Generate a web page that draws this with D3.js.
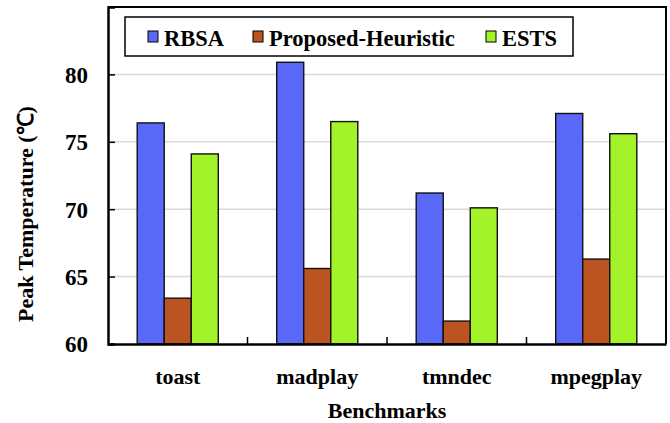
<!DOCTYPE html>
<html>
<head>
<meta charset="utf-8">
<script src="https://cdn.jsdelivr.net/npm/d3@7"></script>
<style>
  html, body { margin: 0; padding: 0; background: #fff; }
  svg { display: block; }
</style>
</head>
<body>
<svg id="chart" width="670" height="423"></svg>
<script>
// Benchmarks on the x axis
const benchmarks = ["toast", "madplay", "tmndec", "mpegplay"];
// Scheduling approaches (legend order)
const seriesNames = ["RBSA", "Proposed-Heuristic", "ESTS"];
const seriesColors = ["#5a68f8", "#bb5420", "#a3f22a"];
// Peak temperature (°C) per benchmark for each approach
const rbsa = [76.4, 80.9, 71.2, 77.1];
const proposedHeuristic = [63.4, 65.6, 61.7, 66.3];
const ests = [74.1, 76.5, 70.1, 75.6];
// Y axis ticks
const yTicks = [60, 65, 70, 75, 80];

const seriesValues = [rbsa, proposedHeuristic, ests];

const FONT = '"Liberation Serif", "Times New Roman", Times, serif';
const svg = d3.select("#chart");
const plotLeft = 108, plotRight = 666, plotTop = 7, plotBottom = 344;

const x = d3.scaleBand().domain(benchmarks).range([plotLeft, plotRight]).paddingInner(0).paddingOuter(0);
// three adjacent bars per group, centred with a gap on each side
const xs = d3.scaleBand().domain(seriesNames).range([0, x.bandwidth()]).paddingInner(0).paddingOuter(1.08);
const y = d3.scaleLinear().domain([60, 85]).range([plotBottom, plotTop]);

function label(sel, size) {
  return sel.style("font-family", FONT).style("font-weight", "bold")
    .style("font-size", size + "px").attr("fill", "#000");
}

// gridlines
svg.append("g")
  .selectAll("line")
  .data(yTicks.filter(d => d > 60))
  .join("line")
  .attr("x1", plotLeft).attr("x2", plotRight)
  .attr("y1", d => y(d)).attr("y2", d => y(d))
  .attr("stroke", "#d9d9d9").attr("stroke-width", 1.5);

// bars
const groups = svg.append("g")
  .selectAll("g")
  .data(benchmarks)
  .join("g")
  .attr("transform", d => `translate(${x(d)},0)`);

groups.selectAll("rect")
  .data((d, i) => seriesNames.map((s, j) => ({ s, v: seriesValues[j][i], c: seriesColors[j] })))
  .join("rect")
  .attr("x", d => xs(d.s))
  .attr("width", xs.bandwidth())
  .attr("y", d => y(d.v))
  .attr("height", d => y(60) - y(d.v))
  .attr("fill", d => d.c)
  .attr("stroke", "#111")
  .attr("stroke-width", 1.4);

// frame (top and right borders)
svg.append("path")
  .attr("d", `M${plotLeft},${plotTop}H${plotRight}V${plotBottom}`)
  .attr("fill", "none").attr("stroke", "#000").attr("stroke-width", 2);

// y axis
const yAxis = d3.axisLeft(y).tickValues(yTicks).tickSize(-7).tickPadding(20).tickFormat(d3.format("d"));
const gy = svg.append("g").attr("transform", `translate(${plotLeft},0)`).call(yAxis);
gy.select(".domain").attr("stroke", "#000").attr("stroke-width", 2.5);
gy.selectAll(".tick line").attr("stroke", "#000").attr("stroke-width", 1.5);
label(gy.selectAll(".tick text"), 23).attr("dy", "0.34em");

// x axis: labels centered on groups, tick marks between groups
const xAxis = d3.axisBottom(x).tickSize(0).tickPadding(24);
const gx = svg.append("g").attr("transform", `translate(0,${plotBottom})`).call(xAxis);
gx.select(".domain").attr("stroke", "#000").attr("stroke-width", 2.5);
label(gx.selectAll(".tick text"), 22).attr("dy", "0.71em");

svg.append("g")
  .selectAll("line")
  .data(benchmarks.slice(1))
  .join("line")
  .attr("x1", d => x(d)).attr("x2", d => x(d))
  .attr("y1", plotBottom).attr("y2", plotBottom - 7)
  .attr("stroke", "#000").attr("stroke-width", 1.5);

// axis titles
label(svg.append("text"), 22)
  .attr("x", (plotLeft + plotRight) / 2).attr("y", 418)
  .attr("text-anchor", "middle")
  .text("Benchmarks");

label(svg.append("text"), 22)
  .attr("transform", "translate(33,214) rotate(-90)")
  .attr("text-anchor", "middle")
  .text("Peak Temperature (℃)");

// legend
const lg = svg.append("g");
lg.append("rect")
  .attr("x", 125).attr("y", 17).attr("width", 448).attr("height", 39)
  .attr("fill", "#fff").attr("stroke", "#000").attr("stroke-width", 1.5);
const legendX = [148, 253, 486];
seriesNames.forEach((s, i) => {
  lg.append("rect")
    .attr("x", legendX[i]).attr("y", 31).attr("width", 10).attr("height", 11)
    .attr("fill", seriesColors[i]).attr("stroke", "#000").attr("stroke-width", 1);
  label(lg.append("text"), 22.5)
    .attr("x", legendX[i] + 16).attr("y", 46)
    .text(s);
});
</script>
</body>
</html>
